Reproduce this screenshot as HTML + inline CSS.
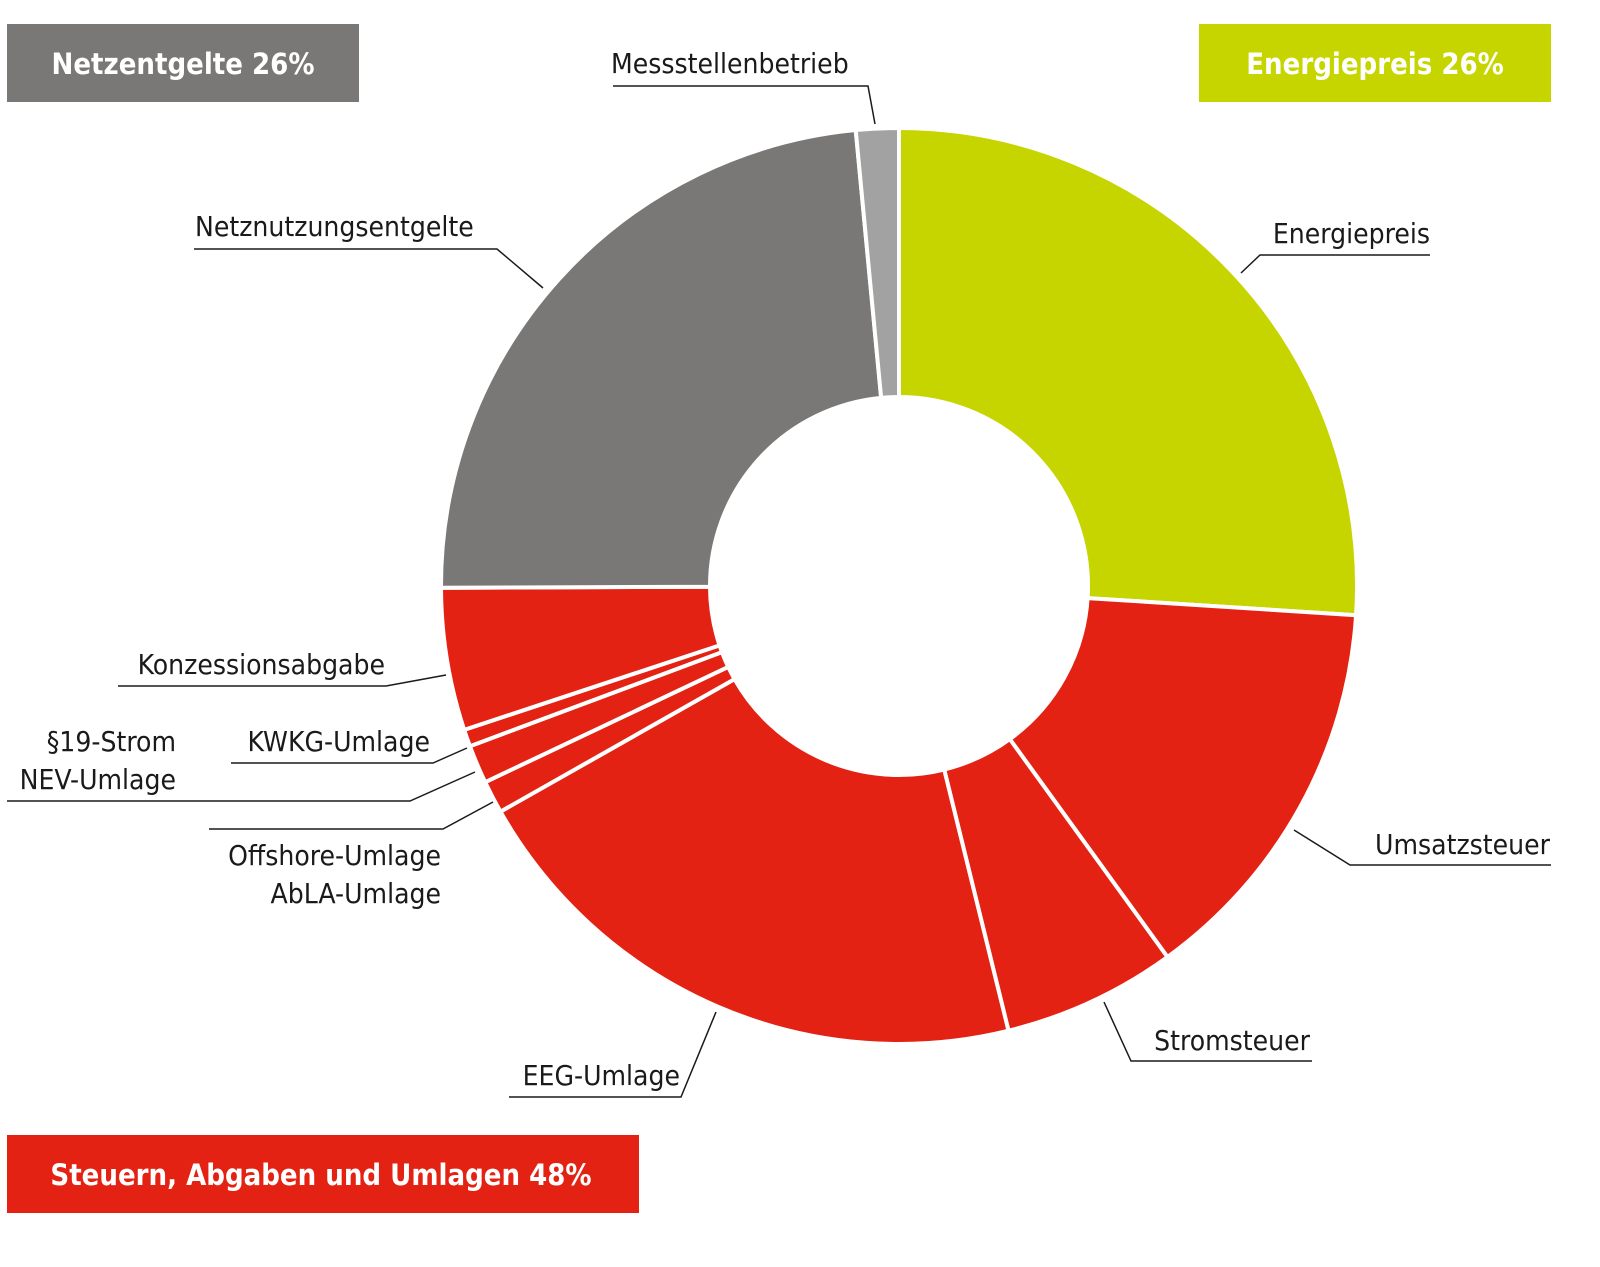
<!DOCTYPE html>
<html><head><meta charset="utf-8"><style>
html,body{margin:0;padding:0;background:#fff;}
svg{display:block;}
text{font-family:"DejaVu Sans Condensed","DejaVu Sans","Liberation Sans",sans-serif;}
.lbl{font-size:28px;fill:#1a1a1a;}
.box{font-size:29px;font-weight:bold;fill:#fff;}
.ld{stroke:#1a1a1a;stroke-width:1.5;fill:none;}
</style></head><body>
<svg id="chart" width="1600" height="1267" viewBox="0 0 1600 1267">
<g id="slices"></g>
<rect x="7" y="24" width="352" height="78" fill="#797876"/>
<text class="box" x="183" y="74" text-anchor="middle">Netzentgelte 26%</text>
<rect x="1199" y="24" width="352" height="78" fill="#c6d500"/>
<text class="box" x="1375" y="74" text-anchor="middle">Energiepreis 26%</text>
<rect x="7" y="1135" width="632" height="78" fill="#e32213"/>
<text class="box" x="321" y="1185" text-anchor="middle">Steuern, Abgaben und Umlagen 48%</text>

<g>
<text class="lbl" x="611" y="73">Messstellenbetrieb</text>
<polyline class="ld" points="613,86 868,86 875,124"/>
<text class="lbl" x="195" y="236">Netznutzungsentgelte</text>
<polyline class="ld" points="194,249 497,249 543,288"/>
<text class="lbl" x="1430" y="243" text-anchor="end">Energiepreis</text>
<polyline class="ld" points="1430,255 1260,255 1241,273"/>
<text class="lbl" x="1550" y="854" text-anchor="end">Umsatzsteuer</text>
<polyline class="ld" points="1551,865 1350,865 1294,830"/>
<text class="lbl" x="1310" y="1050" text-anchor="end">Stromsteuer</text>
<polyline class="ld" points="1312,1061 1131,1061 1104,1002"/>
<text class="lbl" x="680" y="1085" text-anchor="end">EEG-Umlage</text>
<polyline class="ld" points="509,1097 681,1097 716,1012"/>
<text class="lbl" x="385" y="674" text-anchor="end">Konzessionsabgabe</text>
<polyline class="ld" points="118,686 386,686 446,675"/>
<text class="lbl" x="430" y="751" text-anchor="end">KWKG-Umlage</text>
<polyline class="ld" points="231,763 433,763 467,748"/>
<text class="lbl" x="176" y="751" text-anchor="end">§19-Strom</text>
<text class="lbl" x="176" y="789" text-anchor="end">NEV-Umlage</text>
<polyline class="ld" points="7,801 410,801 475,772"/>
<text class="lbl" x="441" y="865" text-anchor="end">Offshore-Umlage</text>
<text class="lbl" x="441" y="903" text-anchor="end">AbLA-Umlage</text>
<polyline class="ld" points="209,829 443,829 493,802"/>
</g>
</svg>
<script>
const categories = ["Energiepreis","Umsatzsteuer","Stromsteuer","EEG-Umlage","Offshore/AbLA-Umlage","§19-Strom NEV-Umlage","KWKG-Umlage","Konzessionsabgabe","Netznutzungsentgelte","Messstellenbetrieb"];
const values = [25.9,13.95,6.1,20.55,1.15,1.35,0.6,5.0,23.45,1.5];
const colors = ["#c6d500","#e32213","#e32213","#e32213","#e32213","#e32213","#e32213","#e32213","#797876","#a2a2a2"];
const cx=899, cy=586, R=458, r=189;
const total = values.reduce((a,b)=>a+b,0);
function angle(v){ return v/total*2*Math.PI; }
function pt(a,rad){ return [cx+rad*Math.sin(a), cy-rad*Math.cos(a)]; }
const g=document.getElementById('slices');
let acc=0;
values.forEach((v,i)=>{
  const a0=angle(acc), a1=angle(acc+v); acc+=v;
  const large=(a1-a0)>Math.PI?1:0;
  const p0=pt(a0,R),p1=pt(a1,R),q1=pt(a1,r),q0=pt(a0,r);
  const d=`M${p0[0]},${p0[1]} A${R},${R} 0 ${large} 1 ${p1[0]},${p1[1]} L${q1[0]},${q1[1]} A${r},${r} 0 ${large} 0 ${q0[0]},${q0[1]} Z`;
  const p=document.createElementNS('http://www.w3.org/2000/svg','path');
  p.setAttribute('d',d);
  p.setAttribute('fill',colors[i]);
  p.setAttribute('stroke','#fff');
  p.setAttribute('stroke-width','4');
  
  
  g.appendChild(p);
});
</script>
</body></html>
